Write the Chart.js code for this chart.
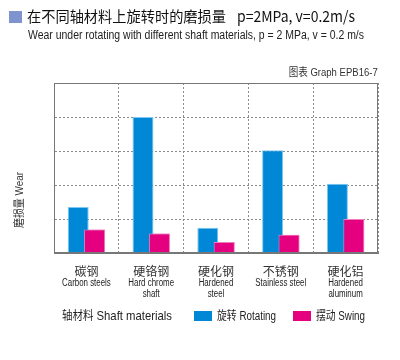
<!DOCTYPE html>
<html><head><meta charset="utf-8">
<script src="https://cdn.jsdelivr.net/npm/chart.js@4"></script>
<style>
html,body{margin:0;padding:0;background:#fff;}
#wrap{position:relative;width:400px;height:360px;overflow:hidden;font-family:"Liberation Sans","Noto Sans CJK SC",sans-serif;color:#222;}
canvas{position:absolute;left:0;top:0;}
.abs{position:absolute;white-space:nowrap;}
.cn{font-family:"Noto Sans CJK SC",sans-serif;}
</style></head><body>
<div id="wrap">
<canvas id="c" width="400" height="360"></canvas>
<div class="abs" style="left:9px;top:11px;width:13px;height:12px;background:#7f94cf"></div>
<div class="abs cn fit" data-w="199" style="left:27px;top:6px;font-size:15px;line-height:20px;color:#111">在不同轴材料上旋转时的磨损量</div>
<div class="abs cn fit" data-w="118" style="left:237px;top:6px;font-size:15px;line-height:20px;color:#111">p=2MPa, v=0.2m/s</div>
<div class="abs fit" data-w="336" style="left:28px;top:28px;font-size:12px;line-height:14px;color:#222">Wear under rotating with different shaft materials, p = 2 MPa, v = 0.2 m/s</div>
<div class="abs fit" data-w="89" data-o="right" style="right:22px;top:64px;font-size:11px;line-height:14px;color:#333"><span class="cn">图表</span> Graph EPB16-7</div>
<div class="abs" style="left:19px;top:200px;width:0;height:0;">
  <div class="abs" id="ytitle" style="left:0;top:0;font-size:11px;line-height:13px;color:#333"><span class="cn">磨损量</span> Wear</div>
</div>
<div class="abs fit" data-w="110" style="left:62px;top:306px;font-size:13px;line-height:18px;color:#222"><span class="cn" style="font-size:12px">轴材料</span> Shaft materials</div>
<div class="abs" style="left:194px;top:311px;width:18px;height:10px;background:#0088d6"></div>
<div class="abs fit" data-w="59" style="left:217px;top:307px;font-size:12px;line-height:16px;color:#222"><span class="cn">旋转</span> Rotating</div>
<div class="abs" style="left:293px;top:311px;width:18px;height:10px;background:#e4007f"></div>
<div class="abs fit" data-w="49" style="left:316px;top:307px;font-size:12px;line-height:16px;color:#222"><span class="cn">摆动</span> Swing</div>
</div>
<script>
const categoriesCN = ['碳钢', '硬铬钢', '硬化钢', '不锈钢', '硬化铝'];
const categoriesEN = [['Carbon steels'], ['Hard chrome', 'shaft'], ['Hardened', 'steel'], ['Stainless steel'], ['Hardened', 'aluminum']];
const rotatingValues = [1.35, 4.0, 0.74, 3.02, 2.04];
const swingValues = [0.69, 0.57, 0.32, 0.54, 1.0];
const seriesNames = ['旋转 Rotating', '摆动 Swing'];

function fitAll() {
  document.querySelectorAll('.fit').forEach(el => {
    el.style.transform = 'none';
    const r = el.getBoundingClientRect().width;
    const w = +el.dataset.w;
    el.style.transformOrigin = (el.dataset.o === 'right' ? 'right' : 'left') + ' center';
    el.style.transform = 'scaleX(' + (w / r) + ')';
  });
  const yt = document.getElementById('ytitle');
  yt.style.transform = 'none';
  const r = yt.getBoundingClientRect().width;
  yt.style.transform = 'translate(-50%,-50%) rotate(-90deg) scaleX(' + (56 / r) + ')';
}
fitAll();
if (document.fonts && document.fonts.ready) document.fonts.ready.then(fitAll);

// Draws the English category lines of the xEn axis in a condensed style,
// at the axis' own tick positions.
const condensedTicks = {
  id: 'condensedTicks',
  afterDraw(chart) {
    const s = chart.scales.xEn, ctx = chart.ctx;
    const labels = s.getLabels();
    ctx.save();
    ctx.fillStyle = '#222';
    ctx.font = '10px "Liberation Sans", sans-serif';
    ctx.textAlign = 'center';
    ctx.textBaseline = 'middle';
    labels.forEach((lines, i) => {
      const x = s.getPixelForTick(i);
      lines.forEach((t, j) => {
        ctx.save();
        ctx.translate(x, s.top + 6 + j * 11.5);
        ctx.scale(0.79, 1);
        ctx.fillText(t, 0, 0);
        ctx.restore();
      });
    });
    ctx.restore();
  }
};

const frameAndOrder = {
  id: 'frameAndOrder',
  afterDatasetsDraw(chart) {
    chart.getDatasetMeta(1).controller.draw();
    const a = chart.chartArea, ctx = chart.ctx;
    ctx.save();
    ctx.strokeStyle = '#777';
    ctx.lineWidth = 1;
    ctx.setLineDash([]);
    ctx.strokeRect(Math.round(a.left) + 0.5, Math.round(a.top) + 0.5, Math.round(a.right - a.left) - 1, Math.round(a.bottom - a.top) - 1);
    ctx.restore();
  }
};

new Chart(document.getElementById('c'), {
  type: 'bar',
  data: {
    labels: categoriesCN,
    datasets: [
      { label: seriesNames[0], data: rotatingValues, backgroundColor: '#0088d6', borderColor: '#7cc6ef', borderWidth: 1,
        categoryPercentage: 0.506, barPercentage: 1.28 },
      { label: seriesNames[1], data: swingValues, backgroundColor: '#e4007f', borderColor: '#f07cbb', borderWidth: 1,
        categoryPercentage: 0.506, barPercentage: 1.28 }
    ]
  },
  options: {
    responsive: false,
    animation: false,
    layout: { padding: { left: 54, top: 83, right: 22, bottom: 43 } },
    plugins: { legend: { display: false }, tooltip: { enabled: false } },
    scales: {
      x: {
        offset: true,
        grid: { display: true, drawTicks: false, color: '#8a8a8a', offset: true },
        border: { display: true, color: '#777', width: 1, dash: [2, 2] },
        ticks: { font: { family: '"Noto Sans CJK SC"', size: 12, lineHeight: 1.2 }, color: '#333', padding: 11, maxRotation: 0, autoSkip: false },
        afterFit: s => { s.height = 24; }
      },
      xEn: {
        type: 'category', labels: categoriesEN, position: 'bottom', offset: true,
        grid: { display: false, drawTicks: false }, border: { display: false },
        ticks: { display: false },
        afterFit: s => { s.height = 40; }
      },
      y: {
        min: 0, max: 5,
        ticks: { display: false, stepSize: 1 },
        grid: { drawTicks: false, color: '#8a8a8a' },
        border: { display: true, color: '#777', width: 1, dash: [2, 2] },
        afterFit: s => { s.width = 0; }
      }
    }
  },
  plugins: [frameAndOrder, condensedTicks]
});
</script>
</body></html>
